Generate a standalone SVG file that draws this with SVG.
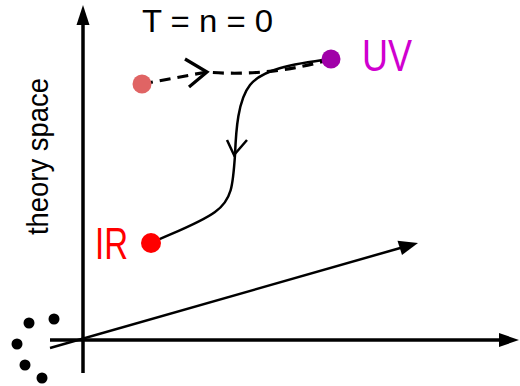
<svg xmlns="http://www.w3.org/2000/svg" width="520" height="386" viewBox="0 0 520 386">
<style>
.ax{stroke:#000;stroke-width:3.5;fill:none}
.ln{stroke:#000;stroke-width:2.5;fill:none}
.hd{fill:#000;stroke:none}
.t{font-family:"Liberation Sans",Arial,sans-serif}
.dot{fill:#000}
</style>
<rect width="520" height="386" fill="#fff"/>
<g id="axes">
<line class="ax" x1="83" y1="373" x2="83" y2="20"/>
<polygon class="hd" points="83,5 76.5,25 89.5,25"/>
<line class="ax" x1="50" y1="340" x2="503" y2="340"/>
<polygon class="hd" points="519,340 499,333 499,347"/>
<line class="ln" x1="50" y1="348" x2="402" y2="247.5"/>
<polygon class="hd" points="418,243 397.5,240.8 402,255"/>
</g>
<g id="dots">
<circle class="dot" cx="29" cy="323" r="5.5"/>
<circle class="dot" cx="54" cy="319" r="5.5"/>
<circle class="dot" cx="17" cy="344" r="5.5"/>
<circle class="dot" cx="25" cy="365" r="5.5"/>
<circle class="dot" cx="42" cy="378" r="5.5"/>
</g>
<g id="connectors">
<path class="ln" style="stroke-width:3.2;stroke-dasharray:11 7" d="M142,84 L207,72 C250,76 295,70 331,59"/>
<polyline class="ln" style="stroke-width:3.2" points="185,59 207,72 189,87"/>
<path class="ln" d="M331,59 C290,64 262,70 250,85 C238,100 236,130 235,155 C233,185 232,200 215,212 C200,223 175,232 151,243"/>
<polyline class="ln" points="227,140 234,155 247,140"/>
</g>
<g id="start"><circle cx="142" cy="84" r="9.5" fill="#e06464"/></g>
<g id="uv"><circle cx="331" cy="59" r="9.5" fill="#a000a8"/>
<text class="t" x="362" y="71" font-size="44" fill="#d000d0" textLength="50" lengthAdjust="spacingAndGlyphs">UV</text></g>
<g id="ir"><circle cx="151" cy="243" r="10" fill="#ff0000"/>
<text class="t" x="95" y="259" font-size="44" fill="#ff0000" textLength="33" lengthAdjust="spacingAndGlyphs">IR</text></g>
<text class="t" x="142" y="32" font-size="31" fill="#000" textLength="131" lengthAdjust="spacingAndGlyphs">T = n = 0</text>
<text class="t" transform="translate(48,235) rotate(-90)" font-size="29" fill="#000" textLength="157" lengthAdjust="spacingAndGlyphs">theory space</text>
</svg>
